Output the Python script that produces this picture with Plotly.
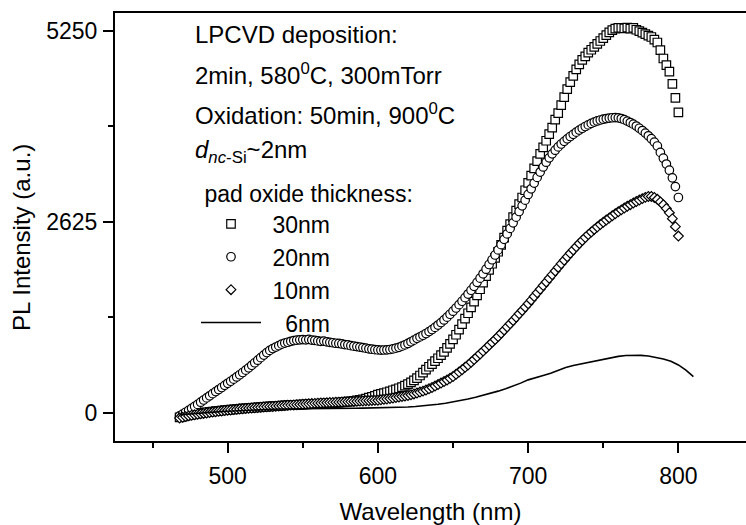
import plotly.graph_objects as go

# ---------------- data ----------------
wavelength = list(range(468, 801, 2))  # nm, sampling grid of the marker series

pl_30nm = [
    -60, -50, -40, -30, -22, -15, -8, -2, 4, 10,
    15, 20, 25, 30, 34, 38, 42, 46, 50, 54,
    58, 62, 65, 68, 72, 75, 78, 81, 84, 87,
    90, 93, 96, 98, 101, 104, 106, 108, 110, 112,
    114, 116, 118, 120, 122, 124, 126, 128, 130, 132,
    134, 137, 140, 143, 146, 150, 155, 160, 166, 172,
    180, 188, 198, 210, 222, 236, 252, 262, 272, 285,
    298, 312, 325, 340, 356, 375, 395, 420, 448, 480,
    515, 555, 595, 635, 672, 712, 752, 795, 840, 895,
    950, 1010, 1075, 1145, 1220, 1295, 1370, 1450, 1530, 1615,
    1700, 1790, 1880, 1965, 2050, 2130, 2215, 2310, 2410, 2505,
    2595, 2690, 2780, 2870, 2960, 3060, 3160, 3260, 3360, 3460,
    3560, 3650, 3740, 3830, 3920, 4030, 4120, 4230, 4340, 4450,
    4545, 4630, 4720, 4790, 4850, 4900, 4950, 4990, 5030, 5070,
    5110, 5150, 5190, 5230, 5260, 5280, 5290, 5290, 5285, 5295,
    5280, 5290, 5265, 5245, 5225, 5205, 5185, 5165, 5130, 5090,
    4985, 4870, 4780, 4690, 4520, 4330, 4130,
]

pl_20nm = [
    -40, -15, 10, 35, 62, 90, 118, 148, 178, 207,
    236, 265, 294, 322, 350, 380, 408, 436, 465, 495,
    525, 556, 588, 620, 655, 690, 725, 760, 795, 830,
    860, 885, 905, 925, 945, 960, 972, 985, 995, 1000,
    1005, 1008, 1005, 1010, 1002, 998, 990, 985, 988, 978,
    970, 965, 958, 955, 948, 940, 935, 925, 918, 912,
    905, 898, 890, 882, 876, 870, 866, 864, 865, 868,
    872, 880, 890, 902, 918, 935, 955, 978, 1000, 1025,
    1045, 1068, 1092, 1118, 1146, 1176, 1208, 1242, 1278, 1316,
    1356, 1398, 1442, 1488, 1535, 1584, 1634, 1686, 1740, 1795,
    1852, 1912, 1975, 2040, 2105, 2170, 2240, 2312, 2385, 2460,
    2536, 2612, 2690, 2768, 2846, 2924, 3002, 3080, 3158, 3236,
    3310, 3380, 3445, 3505, 3560, 3610, 3655, 3695, 3732, 3766,
    3798, 3828, 3858, 3886, 3912, 3936, 3958, 3978, 3996, 4012,
    4025, 4036, 4045, 4052, 4056, 4058, 4055, 4045, 4030, 4010,
    3990, 3968, 3942, 3912, 3880, 3845, 3808, 3768, 3722, 3668,
    3580, 3500, 3420, 3335, 3230, 3110, 2960,
]

pl_10nm = [
    -70, -60, -50, -40, -32, -25, -18, -12, -6, 0,
    6, 12, 18, 23, 28, 33, 38, 42, 46, 50,
    54, 58, 62, 65, 68, 72, 75, 78, 81, 84,
    87, 90, 93, 96, 99, 102, 105, 108, 111, 114,
    117, 120, 123, 126, 129, 132, 135, 137, 139, 141,
    143, 145, 147, 149, 151, 153, 155, 157, 159, 161,
    163, 165, 167, 169, 171, 173, 175, 181, 187, 193,
    199, 205, 212, 219, 226, 233, 240, 251, 262, 274,
    287, 300, 316, 332, 350, 370, 390, 411, 432, 453,
    476, 500, 531, 562, 594, 627, 660, 697, 734, 772,
    811, 850, 890, 930, 970, 1010, 1050, 1094, 1138, 1182,
    1226, 1270, 1316, 1362, 1408, 1454, 1500, 1550, 1600, 1650,
    1700, 1750, 1800, 1850, 1900, 1950, 2000, 2049, 2098, 2146,
    2193, 2240, 2284, 2328, 2370, 2410, 2450, 2486, 2522, 2556,
    2588, 2620, 2650, 2680, 2710, 2738, 2765, 2790, 2815, 2840,
    2862, 2885, 2905, 2925, 2945, 2962, 2975, 2975, 2960, 2935,
    2900, 2860, 2810, 2750, 2670, 2560, 2430,
]

wavelength_6nm = [468] + list(range(475, 811, 5))
pl_6nm = [
    -25, -12, -3, 5, 12, 18, 24, 30, 35, 40,
    44, 48, 51, 54, 56, 58, 60, 61, 62, 63,
    64, 64, 65, 65, 66, 67, 68, 70, 73, 77,
    82, 89, 97, 107, 119, 133, 150, 170, 192, 216,
    242, 270, 300, 334, 370, 410, 455, 490, 515, 545,
    585, 625, 652, 672, 695, 718, 740, 762, 778, 790,
    796, 792, 782, 766, 742, 710, 660, 590, 500,
]

series_names = ["&nbsp;30nm", "&nbsp;20nm", "&nbsp;10nm", "&nbsp;&nbsp;&nbsp;6nm"]
legend_title = "&nbsp;pad oxide thickness:"
y_tick_values = [0, 2625, 5250]
x_tick_values = [500, 600, 700, 800]
x_title = "Wavelength (nm)"
y_title = "PL Intensity (a.u.)"

info_lines = [
    "LPCVD deposition:",
    "2min, 580<sup>0</sup>C, 300mTorr",
    "Oxidation: 50min, 900<sup>0</sup>C",
    "<i>d</i><sub><i>nc</i>-Si</sub>~2nm",
]

# ---------------- figure ----------------
FONT = "Liberation Sans, Arial, Helvetica, sans-serif"
W, H = 746, 525
L, R, T, B = 115, 0, 13, 80
PW, PH = W - L - R, H - T - B


def px_x(px):
    return (px - L) / PW


def px_y(py):
    return (H - B - py) / PH


fig = go.Figure()

mk_line = dict(color="black", width=1.2)
fig.add_trace(go.Scatter(
    x=wavelength, y=pl_30nm, mode="markers", name=series_names[0],
    marker=dict(symbol="square", size=8.5, color="white", line=mk_line),
))
fig.add_trace(go.Scatter(
    x=wavelength, y=pl_20nm, mode="markers", name=series_names[1],
    marker=dict(symbol="circle", size=8.5, color="white", line=mk_line),
))
fig.add_trace(go.Scatter(
    x=wavelength, y=pl_10nm, mode="markers", name=series_names[2],
    marker=dict(symbol="diamond", size=7.5, color="white", line=mk_line),
))
fig.add_trace(go.Scatter(
    x=wavelength_6nm, y=pl_6nm, mode="lines", name=series_names[3],
    line=dict(color="black", width=1.6),
))

line_centers = [35, 75, 115, 153]
for txt, cy in zip(info_lines, line_centers):
    fig.add_annotation(
        text=txt, xref="paper", yref="paper",
        x=px_x(193), y=px_y(cy), xanchor="left", yanchor="middle",
        showarrow=False, font=dict(family=FONT, size=24, color="black"),
    )

# y-axis title placed where the reference shows it
fig.add_annotation(
    text=y_title, xref="paper", yref="paper",
    x=px_x(22), y=px_y(240), xanchor="center", yanchor="middle",
    textangle=-90, showarrow=False,
    font=dict(family=FONT, size=24, color="black"),
)

fig.update_layout(
    width=W, height=H,
    margin=dict(l=L, r=R, t=T, b=B, pad=0),
    paper_bgcolor="white", plot_bgcolor="white",
    font=dict(family=FONT, size=23, color="black"),
    showlegend=True,
    legend=dict(
        x=px_x(196), y=px_y(174), xanchor="left", yanchor="top",
        bgcolor="rgba(0,0,0,0)", borderwidth=0,
        font=dict(family=FONT, size=23, color="black"),
        title=dict(text=legend_title, font=dict(family=FONT, size=23, color="black")),
        itemwidth=60, tracegroupgap=0, itemsizing="trace",
    ),
    xaxis=dict(
        range=[425, 845], showgrid=False, zeroline=False,
        showline=True, linecolor="black", linewidth=2, mirror=True,
        ticks="outside", ticklen=10, tickwidth=1.5, tickcolor="black",
        tickmode="array", tickvals=x_tick_values,
        minor=dict(ticks="outside", ticklen=5, tickwidth=1.5, tickcolor="black", dtick=50, tick0=450),
        tickfont=dict(family=FONT, size=23, color="black"),
        ticklabelstandoff=3,
        title=dict(text=x_title, font=dict(family=FONT, size=24, color="black"), standoff=20),
    ),
    yaxis=dict(
        range=[-385, 5495], showgrid=False, zeroline=False,
        showline=True, linecolor="black", linewidth=2, mirror=False,
        ticks="outside", ticklen=10, tickwidth=1.5, tickcolor="black",
        tickmode="array", tickvals=y_tick_values,
        minor=dict(ticks="outside", ticklen=5, tickwidth=1.5, tickcolor="black", dtick=1312.5, tick0=0),
        tickfont=dict(family=FONT, size=23, color="black"),
        ticklabelstandoff=1,
    ),
)

fig.write_html("out.html")
